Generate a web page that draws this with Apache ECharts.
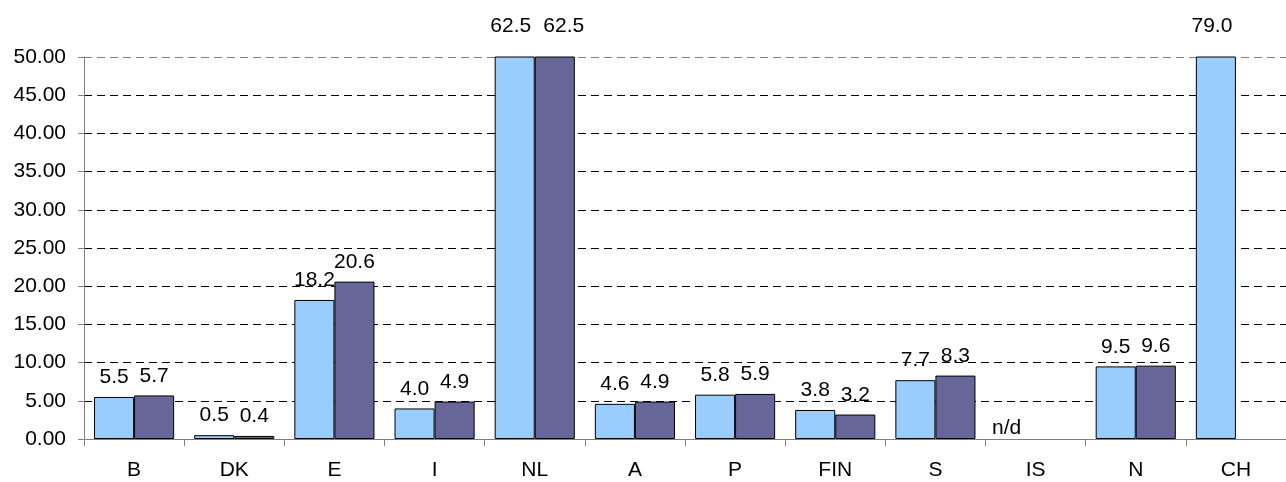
<!DOCTYPE html>
<html><head><meta charset="utf-8">
<script src="https://cdn.jsdelivr.net/npm/echarts@6/dist/echarts.min.js"></script>
<style>html,body{margin:0;padding:0;background:#fff}#c{width:1286px;height:482px}</style>
</head><body><div id="c"></div>
<script>
const categories = ['B','DK','E','I','NL','A','P','FIN','S','IS','N','CH'];
const series1 = [5.5,0.5,18.2,4.0,62.5,4.6,5.8,3.8,7.7,null,9.5,79.0];
const series2 = [5.7,0.4,20.6,4.9,62.5,4.9,5.9,3.2,8.3,null,9.6,null];
const missingLabel = 'n/d';
const missingCategory = 'IS';
const yMin = 0, yMax = 50, yStep = 5;

const FONT = 'Liberation Sans, Arial, sans-serif';
const FS = 21;

function build(arr, shift){
  return arr.map(v => {
    if (v == null) return null;
    if (v > yMax) return {value: v, label: {distance: 20, offset: [shift, 0]}};
    return v;
  });
}
function labelCfg(){
  return {show:true, position:'top', distance:9, color:'#000', fontFamily:FONT, fontSize:FS,
    formatter: p => p.value.toFixed(1)};
}
const nLines = Math.round((yMax - yMin) / yStep) + 1;
const gridColors = Array.from({length:nLines}, (_, i) => i === nLines - 1 ? '#808080' : '#000');

const chart = echarts.init(document.getElementById('c'));
chart.setOption({
  animation:false,
  grid:{left:84, right:-6, top:57, bottom:43, containLabel:false},
  xAxis:{type:'category', data:categories,
    axisLine:{lineStyle:{color:'#808080', width:1}},
    axisTick:{show:true, alignWithLabel:false, length:7, inside:false, lineStyle:{color:'#808080'}},
    axisLabel:{color:'#000', fontFamily:FONT, fontSize:FS, margin:21}},
  yAxis:{type:'value', min:yMin, max:yMax, interval:yStep,
    axisLine:{show:true, lineStyle:{color:'#808080', width:1}},
    axisTick:{show:true, length:6, lineStyle:{color:'#808080'}},
    axisLabel:{color:'#000', fontFamily:FONT, fontSize:FS, margin:18, formatter: v => v.toFixed(2)},
    splitLine:{show:true, lineStyle:{color:gridColors, type:[8,5], width:1}}},
  series:[
    {type:'bar', data:build(series1, -4), barGap:'0%', barCategoryGap:'20%', clip:true,
      itemStyle:{color:'#99CCFF', borderColor:'#000', borderWidth:1},
      label:labelCfg(),
      markPoint:{symbol:'rect', symbolSize:1, itemStyle:{color:'rgba(0,0,0,0)'},
        label:{show:true, position:'top', distance:0, offset:[-9,0], color:'#000', fontFamily:FONT, fontSize:FS,
          formatter: () => missingLabel},
        data:[{coord:[missingCategory, 0], value:0}]}},
    {type:'bar', data:build(series2, 9), clip:true,
      itemStyle:{color:'#666699', borderColor:'#000', borderWidth:1},
      label:labelCfg()}
  ]
});
</script></body></html>
